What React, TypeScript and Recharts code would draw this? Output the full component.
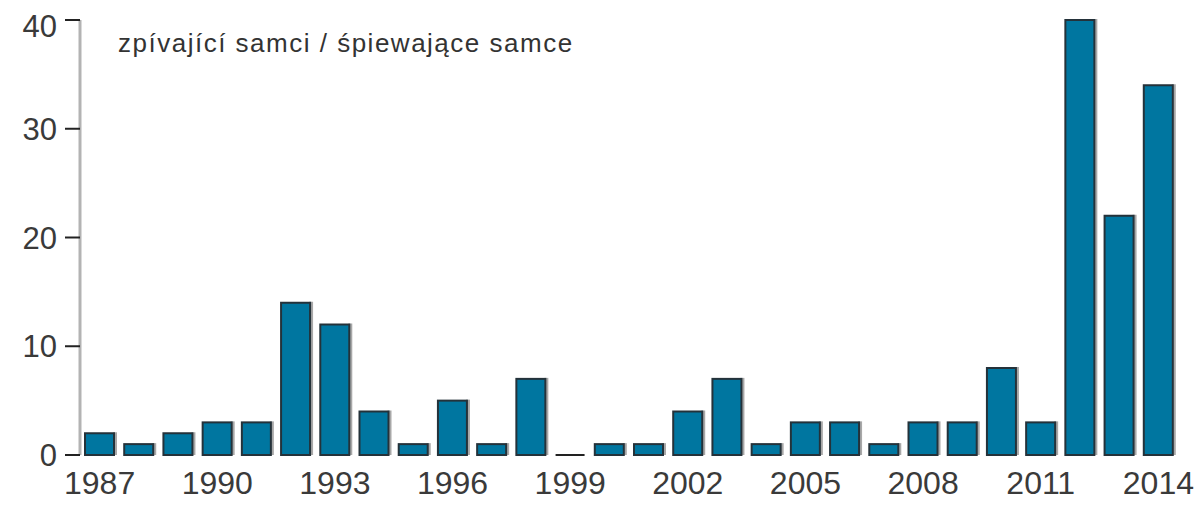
import React from 'react';
import { BarChart, Bar, XAxis, YAxis } from 'recharts';

// roky a počty zpívajících samců
const years = [
  '1987', '1988', '1989', '1990', '1991', '1992', '1993', '1994', '1995', '1996',
  '1997', '1998', '1999', '2000', '2001', '2002', '2003', '2004', '2005', '2006',
  '2007', '2008', '2009', '2010', '2011', '2012', '2013', '2014',
];
const males = [2, 1, 2, 3, 3, 14, 12, 4, 1, 5, 1, 7, 0, 1, 1, 4, 7, 1, 3, 3, 1, 3, 3, 8, 3, 40, 22, 34];
const yTicks = [0, 10, 20, 30, 40];

const title = 'zpívající samci / śpiewające samce';

const data = years.map((y, i) => ({ year: y, value: males[i] }));

const FONT = '"Liberation Sans", Arial, sans-serif';

// sloupec s tmavým obrysem a šedým stínem vpravo
const BarShape = (props: any) => {
  const { x, y, width, height } = props;
  if (height <= 0.5) {
    return <line x1={x} x2={x + width} y1={y} y2={y} stroke="#222" strokeWidth={2} />;
  }
  return (
    <g>
      <rect x={x + width - 1} y={y - 1} width={4} height={height + 1} fill="#a8a8a8" />
      <rect x={x} y={y} width={width} height={height} fill="#0076a0" stroke="#24323a" strokeWidth={2} />
    </g>
  );
};

const XTick = (props: any) => {
  const { x, y, payload } = props;
  return (
    <text x={x} y={y + 31} textAnchor="middle" fontSize={32} fill="#3a3a3a" fontFamily={FONT}>
      {payload.value}
    </text>
  );
};

export default function App() {
  return (
    <div style={{ position: 'relative', width: 1190, height: 495 }}>
      <BarChart
        width={1190}
        height={495}
        data={data}
        margin={{ top: 12, right: 20, left: 0, bottom: 8 }}
        barCategoryGap={5}
      >
        <XAxis
          dataKey="year"
          axisLine={false}
          tickLine={false}
          interval={2}
          height={40}
          tick={<XTick />}
        />
        <YAxis
          domain={[0, 40]}
          ticks={yTicks}
          width={72}
          tickSize={15}
          tickMargin={8}
          axisLine={{ stroke: '#b3b3b3', strokeWidth: 3 }}
          tickLine={{ stroke: '#222', strokeWidth: 2 }}
          tick={{ fill: '#3a3a3a', fontSize: 31, fontFamily: FONT }}
        />
        <Bar dataKey="value" shape={<BarShape />} isAnimationActive={false} />
      </BarChart>
      <div
        style={{
          position: 'absolute',
          left: 110,
          top: 20,
          fontFamily: FONT,
          fontSize: 26,
          color: '#333',
          letterSpacing: 1.5,
          whiteSpace: 'nowrap',
        }}
      >
        {title}
      </div>
    </div>
  );
}
